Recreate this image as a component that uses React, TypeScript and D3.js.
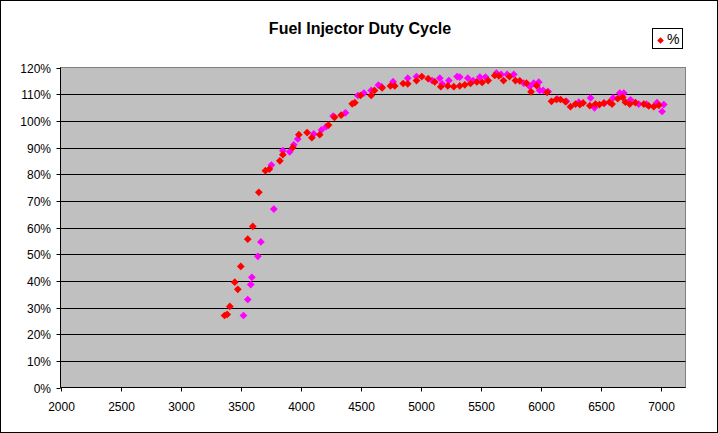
import * as d3 from "d3";
import { useRef, useEffect } from "react";

// red series (the one in the legend): rpm, duty %
const redRpm = [
  3365, 3387, 3409, 3450, 3475, 3500, 3558, 3600, 3650, 3705, 3738, 3825, 3850,
  3933, 3983, 4052, 4091, 4157, 4230, 4280, 4335, 4427, 4449, 4496, 4585, 4612,
  4676, 4745, 4781, 4851, 4889, 4962, 5006, 5059, 5114, 5164, 5222, 5272, 5322,
  5364, 5411, 5464, 5508, 5558, 5613, 5647, 5686, 5736, 5785, 5821, 5877, 5915,
  5962, 6049, 6085, 6126, 6160, 6201, 6243, 6285, 6321, 6348, 6404, 6451, 6484,
  6520, 6567, 6589, 6636, 6677, 6700, 6736, 6783, 6853, 6894, 6936, 6978,
];
const redPct = [
  27.0, 27.4, 30.4, 39.5, 36.8, 45.4, 55.6, 60.4, 73.2, 81.3, 81.9, 85.0, 87.3,
  90.0, 94.8, 95.6, 93.7, 94.8, 98.4, 101.3, 102.1, 106.4, 106.8, 109.5, 109.5,
  111.4, 112.4, 113.1, 113.1, 114.0, 113.9, 115.1, 116.6, 115.8, 114.6, 112.8,
  113.1, 112.8, 113.1, 113.5, 114.0, 114.6, 114.4, 115.1, 117.0, 116.9, 115.1,
  116.6, 115.1, 115.0, 114.1, 110.9, 113.2, 110.7, 107.3, 108.0, 108.0, 107.2,
  105.3, 106.3, 106.1, 106.7, 105.7, 106.3, 106.1, 106.6, 107.0, 106.3, 108.3,
  108.8, 107.0, 106.3, 106.8, 106.3, 105.6, 105.3, 105.8,
];

// magenta series (no legend entry)
const magRpm = [
  3522, 3558, 3583, 3592, 3642, 3667, 3755, 3775, 3850, 3907, 3941, 3974, 4107,
  4171, 4210, 4268, 4371, 4474, 4524, 4585, 4645, 4670, 4767, 4889, 4962, 5092,
  5156, 5175, 5231, 5300, 5322, 5389, 5433, 5489, 5536, 5627, 5666, 5716, 5771,
  5854, 5904, 5937, 5979, 5987, 6016, 6057, 6132, 6209, 6312, 6410, 6443, 6526,
  6598, 6653, 6687, 6742, 6811, 6875, 6963, 7005, 7019,
];
const magPct = [
  27.0, 33.0, 38.6, 41.3, 49.2, 54.6, 83.4, 66.9, 88.8, 88.4, 91.0, 93.2, 95.1,
  96.6, 97.8, 101.8, 103.0, 109.5, 110.4, 111.4, 113.4, 112.8, 114.7, 116.0,
  116.6, 115.1, 116.0, 113.9, 115.1, 116.6, 116.4, 116.0, 115.1, 116.4, 116.4,
  117.9, 117.4, 117.4, 117.4, 114.1, 112.9, 114.1, 114.5, 111.4, 111.4, 111.0,
  108.2, 107.3, 107.0, 108.6, 104.9, 106.6, 108.6, 110.4, 110.4, 107.9, 106.3,
  106.3, 106.8, 103.5, 106.1,
];

const xTicks = [2000, 2500, 3000, 3500, 4000, 4500, 5000, 5500, 6000, 6500, 7000];
const yTicks = [0, 10, 20, 30, 40, 50, 60, 70, 80, 90, 100, 110, 120];

const W = 718;
const H = 433;
const FONT = "'Liberation Sans', Arial, sans-serif";

export default function App() {
  const svgRef = useRef<SVGSVGElement>(null);

  useEffect(() => {
    if (!svgRef.current) return;
    const svg = d3.select(svgRef.current);
    svg.selectAll("*").remove();

    // plot area box
    const left = 60.5;
    const right = 685.5;
    const top = 67.5;
    const bottom = 387.5;

    const x = d3.scaleLinear().domain([2000, 7200]).range([left, right]);
    const y = d3.scaleLinear().domain([0, 120]).range([bottom, top]);

    // chart frame
    svg
      .append("rect")
      .attr("x", 0.5)
      .attr("y", 0.5)
      .attr("width", W - 1)
      .attr("height", H - 1)
      .attr("fill", "#fff")
      .attr("stroke", "#000");

    // grey plot area
    svg
      .append("rect")
      .attr("x", left)
      .attr("y", top)
      .attr("width", right - left)
      .attr("height", bottom - top)
      .attr("fill", "#C0C0C0")
      .attr("stroke", "#808080");

    // gridlines
    svg
      .append("g")
      .selectAll("line")
      .data(yTicks.filter((t) => t > 0 && t < 120))
      .enter()
      .append("line")
      .attr("x1", left)
      .attr("x2", right)
      .attr("y1", (d) => Math.round(y(d)) + 0.5)
      .attr("y2", (d) => Math.round(y(d)) + 0.5)
      .attr("stroke", "#000");

    // y axis
    const yAxis = svg.append("g").attr("font-family", FONT).attr("font-size", 12);
    yAxis
      .append("line")
      .attr("x1", left)
      .attr("x2", left)
      .attr("y1", top)
      .attr("y2", bottom)
      .attr("stroke", "#000");
    yTicks.forEach((t) => {
      const py = Math.round(y(t)) + 0.5;
      yAxis
        .append("line")
        .attr("x1", left - 4)
        .attr("x2", left)
        .attr("y1", py)
        .attr("y2", py)
        .attr("stroke", "#000");
      yAxis
        .append("text")
        .attr("x", 51)
        .attr("y", py)
        .attr("dy", "0.36em")
        .attr("text-anchor", "end")
        .text(`${t}%`);
    });

    // x axis
    const xAxis = svg.append("g").attr("font-family", FONT).attr("font-size", 12);
    xAxis
      .append("line")
      .attr("x1", left)
      .attr("x2", right)
      .attr("y1", bottom)
      .attr("y2", bottom)
      .attr("stroke", "#000");
    xTicks.forEach((t) => {
      const px = Math.round(x(t)) + 0.5;
      xAxis
        .append("line")
        .attr("x1", px)
        .attr("x2", px)
        .attr("y1", bottom)
        .attr("y2", bottom + 4)
        .attr("stroke", "#000");
      xAxis
        .append("text")
        .attr("x", px)
        .attr("y", 411)
        .attr("text-anchor", "middle")
        .text(t);
    });

    // diamond marker (square turned 45deg)
    const diamond = d3.symbol().type(d3.symbolSquare).size(30)()!;

    const drawSeries = (rpm: number[], pct: number[], color: string) => {
      svg
        .append("g")
        .selectAll("path")
        .data(rpm.map((r, i) => [r, pct[i]]))
        .enter()
        .append("path")
        .attr("d", diamond)
        .attr("transform", (d) => `translate(${x(d[0])},${y(d[1])}) rotate(45)`)
        .attr("fill", color);
    };
    drawSeries(magRpm, magPct, "#FF00FF");
    drawSeries(redRpm, redPct, "#FF0000");

    // title
    svg
      .append("text")
      .attr("x", 360)
      .attr("y", 34)
      .attr("text-anchor", "middle")
      .attr("font-family", FONT)
      .attr("font-size", 16)
      .attr("font-weight", "bold")
      .text("Fuel Injector Duty Cycle");

    // legend
    const lg = svg.append("g");
    lg.append("rect")
      .attr("x", 652.5)
      .attr("y", 28.5)
      .attr("width", 30)
      .attr("height", 20)
      .attr("fill", "#fff")
      .attr("stroke", "#000");
    lg.append("path")
      .attr("d", d3.symbol().type(d3.symbolSquare).size(22)()!)
      .attr("transform", "translate(660.5,40.5) rotate(45)")
      .attr("fill", "#FF0000");
    lg.append("text")
      .attr("x", 667)
      .attr("y", 44)
      .attr("font-family", FONT)
      .attr("font-size", 14)
      .text("%");
  }, []);

  return (
    <svg
      ref={svgRef}
      width={W}
      height={H}
      style={{ position: "absolute", left: 0, top: 0, display: "block" }}
    />
  );
}
